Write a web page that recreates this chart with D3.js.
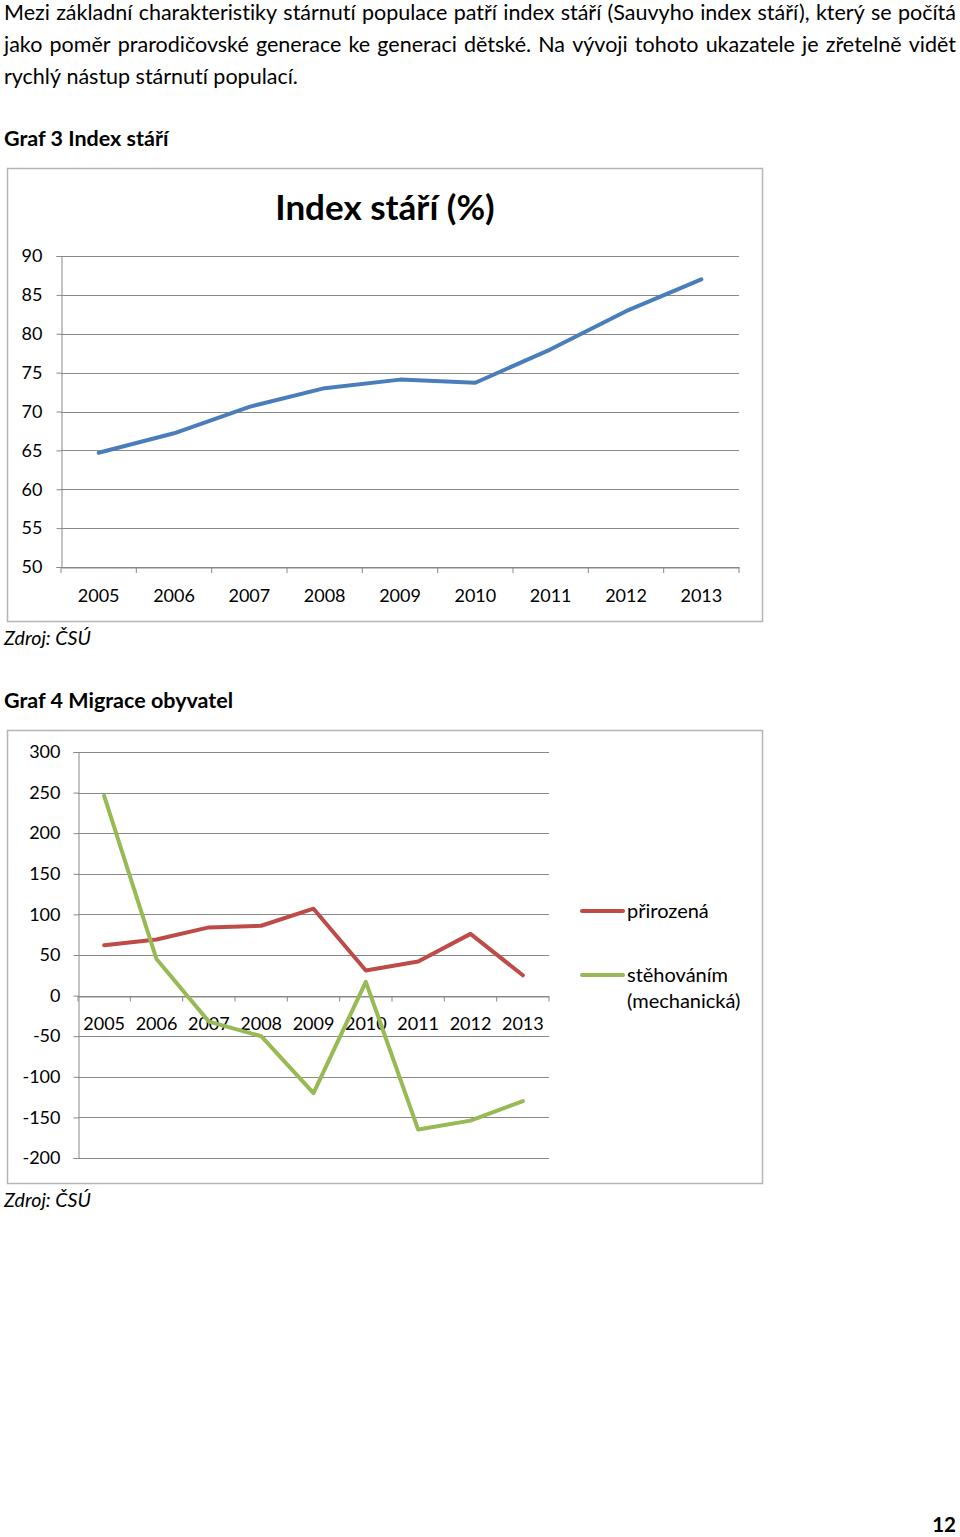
<!DOCTYPE html>
<html><head><meta charset="utf-8">
<script src="https://cdn.jsdelivr.net/npm/d3@7"></script>
<style>
html,body{margin:0;padding:0;background:#fff;}
svg{display:block;font-family:Lato,"Open Sans",sans-serif;font-variant-ligatures:none;font-feature-settings:"liga" 0;}
</style></head>
<body>
<svg id="page" width="960" height="1537"></svg>
<script>
// ---------- data ----------
const paragraphLines = [
  "Mezi základní charakteristiky stárnutí populace patří index stáří (Sauvyho index stáří), který se počítá",
  "jako poměr prarodičovské generace ke generaci dětské. Na vývoji tohoto ukazatele je zřetelně vidět",
  "rychlý nástup stárnutí populací."
];
const years = ["2005","2006","2007","2008","2009","2010","2011","2012","2013"];
const indexStari = [64.7, 67.2, 70.6, 73.0, 74.1, 73.7, 78.0, 82.9, 87.0];
const indexTicks = [50, 55, 60, 65, 70, 75, 80, 85, 90];
const prirozena = [62, 69, 84, 86, 107, 31, 42, 76, 25];
const stehovanim = [246, 45, -32, -50, -120, 17, -165, -154, -130];
const migraceTicks = [-200, -150, -100, -50, 0, 50, 100, 150, 200, 250, 300];
const legendLabels = [["přirozená"], ["stěhováním", "(mechanická)"]];

const svg = d3.select("#page");
const txt = "#000";
const fmt = d => String(d);

// ---------- paragraph (justified) ----------
paragraphLines.forEach((line, i) => {
  const y = 19.5 + i * 32;
  const justify = i < paragraphLines.length - 1;
  const words = line.split(" ");
  const g = svg.append("g");
  const nodes = words.map(w => g.append("text").attr("y", y).attr("font-size", 21.5).attr("fill", txt).text(w));
  const widths = nodes.map(n => n.node().getComputedTextLength());
  const space = justify ? (952 - d3.sum(widths)) / (words.length - 1) : 5.4;
  let x = 4;
  nodes.forEach((n, k) => { n.attr("x", x); x += widths[k] + space; });
});

// ---------- captions ----------
svg.append("text").attr("x", 4).attr("y", 146).attr("font-size", 21.5).attr("font-weight", 700).text("Graf 3 Index stáří");
svg.append("text").attr("x", 4).attr("y", 645).attr("font-size", 19.6).attr("font-style", "italic").text("Zdroj: ČSÚ");
svg.append("text").attr("x", 4).attr("y", 708).attr("font-size", 21.5).attr("font-weight", 700).text("Graf 4 Migrace obyvatel");
svg.append("text").attr("x", 4).attr("y", 1207).attr("font-size", 19.6).attr("font-style", "italic").text("Zdroj: ČSÚ");
svg.append("text").attr("x", 956).attr("y", 1532).attr("font-size", 20.5).attr("font-weight", 700).attr("text-anchor", "end").text("12");

const gridCol = "#898989";

// ---------- chart frames ----------
[[168, 621], [730, 1183]].forEach(([t, b]) => {
  svg.append("rect").attr("x", 7.5).attr("y", t + 0.5).attr("width", 755).attr("height", b - t)
    .attr("fill", "#fff").attr("stroke", "#b5b5b5").attr("stroke-width", 1.5);
});

// ---------- chart 1 ----------
{
  const x = d3.scaleBand().domain(years).range([61, 739]);
  const y = d3.scaleLinear().domain([50, 90]).range([567, 256]);
  const g = svg.append("g");
  g.append("text").attr("x", 385).attr("y", 220).attr("text-anchor", "middle")
    .attr("font-size", 35).attr("font-weight", 700).text("Index stáří (%)");
  g.selectAll(".grid").data(indexTicks).join("line")
    .attr("x1", 61).attr("x2", 739).attr("y1", d => Math.round(y(d)) + 0.5).attr("y2", d => Math.round(y(d)) + 0.5)
    .attr("stroke", gridCol).attr("stroke-width", 1);
  const ya = g.append("g").attr("transform", "translate(61.5,0)")
    .call(d3.axisLeft(y).tickValues(indexTicks).tickFormat(fmt).tickSize(5).tickPadding(14));
  ya.selectAll("path,line").attr("stroke", gridCol);
  ya.selectAll("text").attr("font-size", 18).attr("font-family", "Lato").attr("fill", txt);
  const xa = g.append("g").attr("transform", "translate(0,567.5)")
    .call(d3.axisBottom(x).tickSize(0).tickPadding(22));
  xa.select("path").attr("stroke", gridCol);
  xa.selectAll("text").attr("font-size", 18).attr("font-family", "Lato").attr("fill", txt);
  g.selectAll(".xt").data(years.concat(["end"])).join("line")
    .attr("x1", (d, i) => 61 + i * x.step()).attr("x2", (d, i) => 61 + i * x.step())
    .attr("y1", 567).attr("y2", 573).attr("stroke", gridCol);
  const line = d3.line().x((d, i) => x(years[i]) + x.bandwidth() / 2).y(d => y(d));
  g.append("path").datum(indexStari).attr("d", line).attr("fill", "none")
    .attr("stroke", "#4a7ebb").attr("stroke-width", 4).attr("stroke-linejoin", "round").attr("stroke-linecap", "round");
}

// ---------- chart 2 ----------
{
  const x = d3.scaleBand().domain(years).range([78, 549]);
  const y = d3.scaleLinear().domain([-200, 300]).range([1158, 752]);
  const g = svg.append("g");
  g.selectAll(".grid").data(migraceTicks).join("line")
    .attr("x1", 78).attr("x2", 549).attr("y1", d => Math.round(y(d)) + 0.5).attr("y2", d => Math.round(y(d)) + 0.5)
    .attr("stroke", gridCol).attr("stroke-width", 1);
  const ya = g.append("g").attr("transform", "translate(78.5,0)")
    .call(d3.axisLeft(y).tickValues(migraceTicks).tickFormat(fmt).tickSize(5).tickPadding(13));
  ya.selectAll("path,line").attr("stroke", gridCol);
  ya.selectAll("text").attr("font-size", 18).attr("font-family", "Lato").attr("fill", txt);
  const y0 = Math.round(y(0)) + 0.5;
  const xa = g.append("g").attr("transform", `translate(0,${y0})`)
    .call(d3.axisBottom(x).tickSize(0).tickPadding(21));
  xa.select("path").attr("stroke", gridCol);
  xa.selectAll("text").attr("font-size", 18).attr("font-family", "Lato").attr("fill", txt);
  g.selectAll(".xt").data(years.concat(["end"])).join("line")
    .attr("x1", (d, i) => 78 + i * x.step()).attr("x2", (d, i) => 78 + i * x.step())
    .attr("y1", y0).attr("y2", y0 + 5).attr("stroke", gridCol);
  const line = d3.line().x((d, i) => x(years[i]) + x.bandwidth() / 2).y(d => y(d));
  const series = [[prirozena, "#be4b48"], [stehovanim, "#98b954"]];
  series.forEach(([vals, col]) => {
    g.append("path").datum(vals).attr("d", line).attr("fill", "none")
      .attr("stroke", col).attr("stroke-width", 4).attr("stroke-linejoin", "round").attr("stroke-linecap", "round");
  });
  const ly = [911, 975];
  series.forEach(([vals, col], i) => {
    g.append("line").attr("x1", 582).attr("x2", 623).attr("y1", ly[i]).attr("y2", ly[i])
      .attr("stroke", col).attr("stroke-width", 4).attr("stroke-linecap", "round");
    legendLabels[i].forEach((t, k) => {
      g.append("text").attr("x", 627).attr("y", ly[i] + 7 + k * 26).attr("font-size", 20).attr("fill", txt).text(t);
    });
  });
}
</script>
</body></html>
